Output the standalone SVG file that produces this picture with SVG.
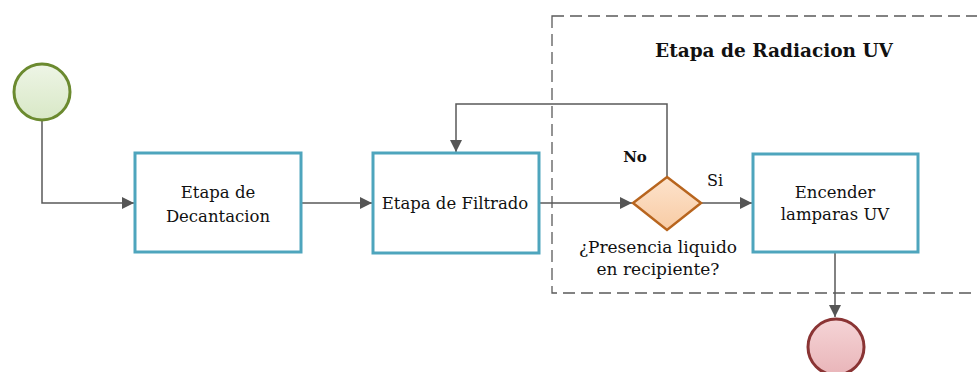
<svg xmlns="http://www.w3.org/2000/svg" width="977" height="372" viewBox="0 0 977 372">
<defs>
<linearGradient id="gStart" x1="0" y1="0" x2="0" y2="1"><stop offset="0" stop-color="#eef5e6"/><stop offset="1" stop-color="#d8e8c6"/></linearGradient>
<linearGradient id="gEnd" x1="0" y1="0" x2="0" y2="1"><stop offset="0" stop-color="#f5d4d6"/><stop offset="1" stop-color="#e9b5b9"/></linearGradient>
<linearGradient id="gDec" x1="0" y1="0" x2="0" y2="1"><stop offset="0" stop-color="#fde3cc"/><stop offset="1" stop-color="#f8cba4"/></linearGradient>
<marker id="arr" viewBox="0 0 10 10" refX="10" refY="5" markerWidth="12" markerHeight="12" markerUnits="userSpaceOnUse" orient="auto"><path d="M0,0 L10,5 L0,10 z" fill="#555"/></marker>
</defs>
<style>
.task{fill:#fff;stroke:#4ea5bd;stroke-width:3}
text{font-family:'DejaVu Serif','Liberation Serif',serif;fill:#111;text-anchor:middle}
.lbl{font-size:16.5px}
.q{font-size:17px}
.title{font-size:18.5px;font-weight:bold}
.no{font-size:15px;font-weight:bold}
.si{font-size:16px}
.conn{fill:none;stroke:#595959;stroke-width:1.5;marker-end:url(#arr)}
</style>
<rect width="977" height="372" fill="#fff"/>
<g id="lane">
<rect x="552" y="16" width="440" height="277" fill="none" stroke="#5a5a5a" stroke-width="1.3" stroke-dasharray="12,6"/>
<text x="774" y="57" class="title">Etapa de Radiacion UV</text>
</g>
<g id="connectors">
<path class="conn" d="M42,121 V203 H134"/>
<path class="conn" d="M302,203 H372"/>
<path class="conn" d="M539,203 H632"/>
<path class="conn" d="M667,177 V104 H456 V152"/>
<path class="conn" d="M701,203 H752"/>
<path class="conn" d="M835,253 V317"/>
<text x="635" y="162" class="no">No</text>
<text x="715" y="186" class="si">Si</text>
</g>
<g id="start"><circle cx="42" cy="92" r="28" fill="url(#gStart)" stroke="#6b8a2f" stroke-width="3"/></g>
<g id="decantacion">
<rect class="task" x="135" y="153" width="166" height="99"/>
<text class="lbl" x="218" y="198">Etapa de</text>
<text class="lbl" x="218" y="222">Decantacion</text>
</g>
<g id="filtrado">
<rect class="task" x="373" y="153" width="166" height="100"/>
<text class="lbl" x="455" y="209">Etapa de Filtrado</text>
</g>
<g id="decision">
<polygon points="667,177 701,203 667,230 633,203" fill="url(#gDec)" stroke="#b8651e" stroke-width="2.5"/>
<text class="q" x="658" y="253">¿Presencia liquido</text>
<text class="q" x="658" y="275">en recipiente?</text>
</g>
<g id="lamparas">
<rect class="task" x="753" y="154" width="165" height="98"/>
<text class="lbl" x="835" y="198">Encender</text>
<text class="lbl" x="835" y="220">lamparas UV</text>
</g>
<g id="end"><circle cx="836" cy="347" r="28" fill="url(#gEnd)" stroke="#8a3434" stroke-width="3"/></g>
</svg>
